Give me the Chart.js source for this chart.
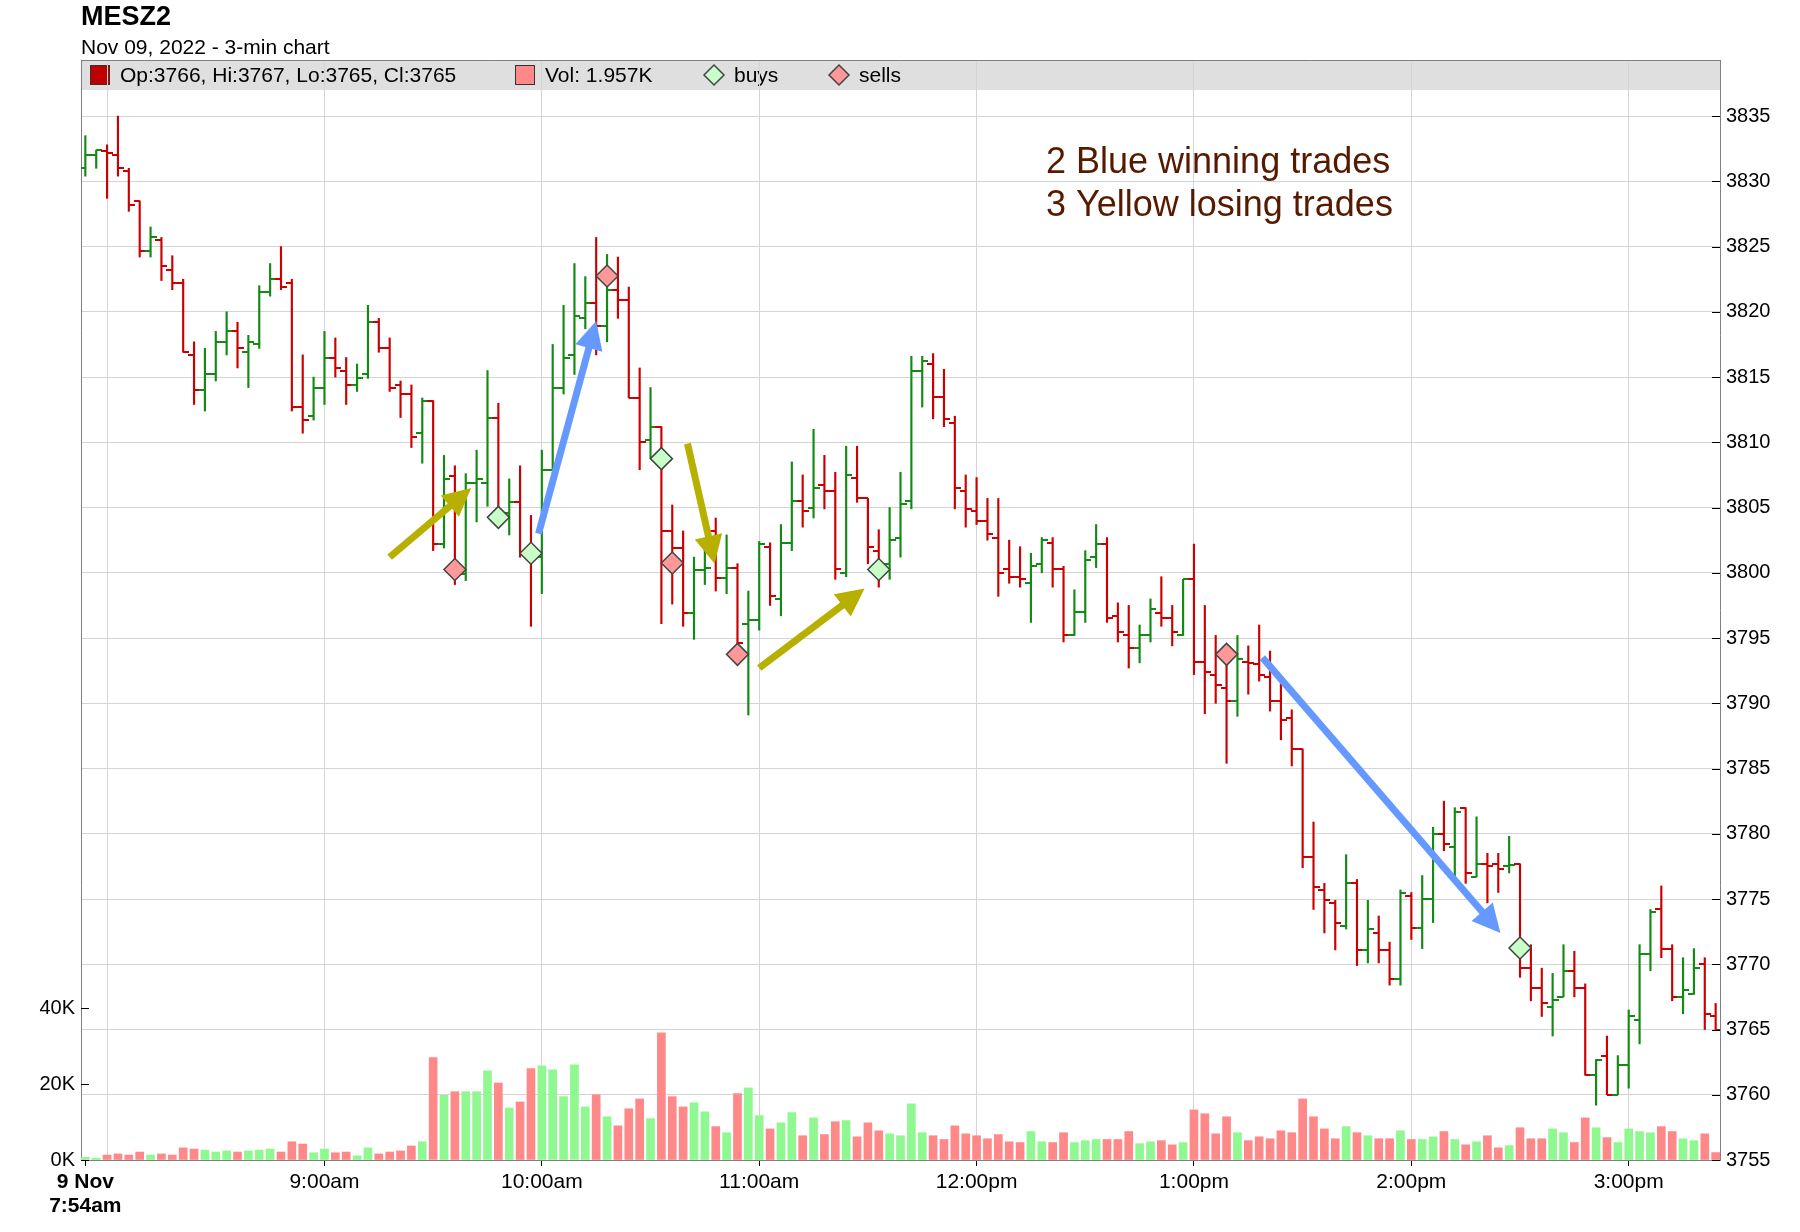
<!DOCTYPE html>
<html>
<head>
<meta charset="utf-8">
<script src="https://cdn.jsdelivr.net/npm/chart.js@4.4.0/dist/chart.umd.min.js"></script>
<style>
  html, body { margin: 0; padding: 0; background: #fff; }
  canvas { display: block; }
</style>
</head>
<body>
<canvas id="myChart" width="1800" height="1232"></canvas>
<script>
// MESZ2, 3-min bars, 7:54am .. 3:24pm (bar index 0..150)
const opens = [
  3831.0, 3832.0, 3832.3, 3832.0, 3830.8, 3828.5, 3824.7, 3825.5, 3823.2, 3822.2,
  3816.7, 3814.0, 3815.2, 3817.7, 3818.5, 3816.9, 3817.5, 3821.5, 3822.5, 3822.2,
  3812.7, 3812.0, 3814.2, 3816.5, 3815.5, 3814.4, 3815.2, 3819.2, 3817.2, 3814.4,
  3813.7, 3810.7, 3813.2, 3802.2, 3807.4, 3799.9, 3806.9, 3806.9, 3811.9, 3804.6,
  3805.4, 3801.6, 3801.2, 3807.9, 3814.2, 3816.7, 3819.5, 3820.7, 3818.9, 3821.7,
  3820.9, 3813.4, 3810.2, 3811.2, 3803.2, 3801.9, 3796.9, 3800.2, 3803.2, 3799.6,
  3800.4, 3796.1, 3796.4, 3802.0, 3798.0, 3802.3, 3805.5, 3805.0, 3806.7, 3806.3,
  3800.0, 3807.3, 3805.7, 3801.7, 3800.7, 3802.7, 3805.5, 3815.5, 3816.0, 3813.5,
  3811.5, 3806.3, 3804.7, 3804.0, 3802.7, 3800.3, 3799.7, 3799.2, 3800.7, 3802.3,
  3800.3, 3795.2, 3797.0, 3801.2, 3802.2, 3796.7, 3795.2, 3794.2, 3795.2, 3796.9,
  3796.5, 3795.2, 3799.5, 3793.2, 3792.2, 3791.2, 3790.2, 3793.2, 3793.0, 3792.0,
  3790.2, 3788.9, 3786.5, 3778.2, 3775.7, 3774.7, 3772.9, 3776.2, 3771.1, 3772.4,
  3771.1, 3768.9, 3775.2, 3772.8, 3775.0, 3780.0, 3779.0, 3782.0, 3776.7, 3777.7,
  3777.7, 3777.5, 3777.7, 3769.7, 3768.2, 3766.7, 3767.5, 3769.5, 3768.2, 3761.5,
  3763.0, 3760.0, 3762.3, 3765.7, 3770.8, 3774.2, 3771.2, 3767.5, 3767.7, 3770.0,
  3766
];
const highs = [
  3833.5, 3832.4, 3832.8, 3835.0, 3831.0, 3828.5, 3826.5, 3825.7, 3824.3, 3822.5,
  3817.7, 3817.2, 3818.5, 3820.0, 3819.2, 3818.2, 3822.0, 3823.7, 3825.0, 3822.5,
  3816.7, 3815.0, 3818.5, 3818.0, 3816.5, 3816.0, 3820.5, 3819.5, 3818.0, 3814.7,
  3814.4, 3813.4, 3813.2, 3809.0, 3808.2, 3807.6, 3809.4, 3815.5, 3813.0, 3807.2,
  3808.2, 3804.4, 3809.4, 3817.5, 3820.5, 3823.7, 3822.7, 3825.7, 3824.4, 3824.2,
  3821.9, 3815.7, 3814.2, 3811.2, 3805.2, 3803.2, 3801.2, 3801.9, 3804.2, 3802.9,
  3800.7, 3798.6, 3802.4, 3802.3, 3803.7, 3808.5, 3807.5, 3811.0, 3809.0, 3807.7,
  3809.7, 3809.7, 3805.7, 3803.3, 3805.0, 3807.7, 3816.6, 3816.6, 3816.8, 3815.6,
  3812.0, 3807.5, 3807.3, 3805.7, 3805.7, 3802.5, 3802.0, 3801.5, 3802.7, 3802.7,
  3800.5, 3798.7, 3801.7, 3803.7, 3802.7, 3797.7, 3797.5, 3796.0, 3798.0, 3799.7,
  3797.5, 3799.5, 3802.2, 3797.5, 3795.2, 3794.0, 3795.2, 3794.4, 3796.0, 3794.0,
  3791.5, 3789.5, 3786.5, 3780.9, 3776.2, 3774.9, 3778.4, 3776.5, 3774.9, 3773.7,
  3771.7, 3775.7, 3775.5, 3776.8, 3780.5, 3782.5, 3782.0, 3782.0, 3781.3, 3778.5,
  3778.5, 3779.8, 3777.7, 3771.5, 3769.7, 3769.3, 3771.5, 3771.0, 3768.5, 3762.7,
  3764.5, 3763.0, 3766.5, 3771.5, 3774.2, 3776.0, 3771.5, 3770.5, 3771.2, 3770.5,
  3767
];
const lows = [
  3830.4, 3831.0, 3828.7, 3830.4, 3827.7, 3824.2, 3824.2, 3822.4, 3821.7, 3816.9,
  3812.9, 3812.4, 3814.7, 3816.7, 3815.7, 3814.2, 3817.2, 3821.2, 3821.7, 3812.4,
  3810.7, 3811.7, 3812.9, 3815.0, 3812.9, 3813.9, 3814.9, 3816.9, 3813.9, 3811.9,
  3809.6, 3808.4, 3801.7, 3801.9, 3799.1, 3799.4, 3803.9, 3805.1, 3804.0, 3802.9,
  3801.2, 3795.9, 3798.4, 3807.9, 3813.7, 3815.2, 3818.7, 3816.7, 3817.7, 3819.5,
  3813.4, 3807.9, 3808.8, 3796.1, 3797.6, 3795.9, 3794.9, 3799.1, 3798.6, 3798.4,
  3793.3, 3789.1, 3795.6, 3797.5, 3796.7, 3801.7, 3803.5, 3804.2, 3804.9, 3799.5,
  3799.7, 3805.4, 3800.7, 3798.9, 3799.5, 3801.2, 3804.9, 3812.7, 3811.8, 3811.2,
  3804.9, 3803.5, 3803.7, 3802.5, 3798.2, 3799.2, 3798.9, 3796.2, 3800.0, 3798.9,
  3794.7, 3795.2, 3796.2, 3800.4, 3796.2, 3794.7, 3792.7, 3793.1, 3794.7, 3795.9,
  3794.4, 3795.2, 3792.2, 3789.2, 3790.0, 3785.4, 3789.0, 3790.7, 3791.7, 3789.4,
  3787.2, 3785.2, 3777.4, 3774.2, 3772.4, 3771.1, 3772.7, 3769.9, 3770.1, 3770.1,
  3768.4, 3768.4, 3771.9, 3771.2, 3773.2, 3778.7, 3776.7, 3776.2, 3776.7, 3774.7,
  3775.5, 3777.0, 3769.0, 3767.2, 3766.0, 3764.5, 3767.5, 3767.5, 3761.5, 3759.2,
  3760.0, 3760.0, 3760.5, 3763.9, 3769.5, 3770.5, 3767.2, 3766.2, 3767.7, 3765.0,
  3765
];
const closes = [
  3832.0, 3832.4, 3832.2, 3831.0, 3828.2, 3824.7, 3825.7, 3823.5, 3822.2, 3816.9,
  3814.0, 3815.2, 3817.7, 3818.5, 3817.2, 3817.7, 3821.5, 3822.5, 3821.9, 3812.7,
  3811.7, 3814.2, 3816.5, 3815.7, 3814.4, 3814.9, 3819.2, 3817.2, 3814.2, 3813.7,
  3810.4, 3813.2, 3802.2, 3807.2, 3800.5, 3806.9, 3807.2, 3811.9, 3804.6, 3805.4,
  3801.6, 3801.2, 3807.9, 3814.2, 3816.5, 3819.7, 3820.7, 3818.9, 3821.7, 3820.9,
  3813.4, 3810.0, 3811.2, 3803.2, 3801.9, 3796.9, 3800.2, 3800.4, 3799.6, 3800.4,
  3794.6, 3796.4, 3802.2, 3798.2, 3802.3, 3805.5, 3804.7, 3806.5, 3806.3, 3800.3,
  3807.5, 3805.7, 3802.0, 3800.4, 3802.5, 3805.3, 3815.5, 3816.2, 3813.5, 3811.8,
  3806.5, 3804.9, 3804.0, 3803.0, 3800.0, 3799.7, 3799.5, 3800.5, 3802.5, 3800.3,
  3795.2, 3797.0, 3801.0, 3802.2, 3796.5, 3795.5, 3794.2, 3795.2, 3797.2, 3796.5,
  3795.5, 3799.5, 3793.2, 3792.4, 3791.4, 3790.2, 3793.4, 3793.1, 3792.2, 3790.2,
  3788.7, 3786.5, 3778.2, 3775.9, 3774.9, 3773.2, 3776.2, 3771.1, 3772.7, 3771.1,
  3768.9, 3775.5, 3772.8, 3775.0, 3780.0, 3779.2, 3781.7, 3777.0, 3777.7, 3777.5,
  3777.3, 3777.6, 3769.7, 3768.2, 3767.0, 3767.3, 3769.5, 3768.2, 3761.5, 3762.7,
  3760.0, 3762.3, 3766.0, 3770.8, 3774.0, 3771.2, 3767.5, 3768.0, 3769.7, 3766.2,
  3765
];
// volume in thousands
const volumes = [
  0.7, 0.45, 1.3, 1.6, 1.3, 2.1, 1.3, 1.6, 1.3, 3.2,
  2.9, 2.6, 2.1, 2.4, 2.1, 2.4, 2.6, 2.9, 2.1, 4.8,
  4.2, 1.9, 2.9, 1.9, 2.1, 1.1, 3.2, 1.6, 2.1, 2.4,
  3.7, 4.8, 27.0, 17.1, 18.0, 18.0, 18.0, 23.5, 20.3, 13.7,
  15.3, 24.1, 24.8, 23.8, 16.7, 25.1, 14.0, 17.2, 11.4, 9.0,
  13.5, 16.1, 10.9, 33.5, 16.7, 14.0, 15.1, 12.7, 8.8, 7.2,
  17.5, 19.0, 11.7, 8.2, 9.8, 12.5, 6.4, 11.1, 6.7, 10.1,
  10.4, 6.1, 9.8, 7.7, 6.9, 6.4, 14.8, 7.2, 6.4, 5.4,
  9.0, 6.9, 6.4, 5.6, 6.7, 4.8, 4.6, 7.5, 4.8, 4.6,
  7.2, 4.6, 5.1, 5.4, 5.4, 5.4, 7.5, 4.3, 4.8, 5.1,
  4.0, 4.6, 13.2, 12.2, 6.9, 11.4, 7.2, 5.1, 6.1, 5.6,
  7.7, 7.2, 16.1, 11.4, 8.2, 5.6, 8.8, 7.2, 6.4, 5.6,
  5.6, 7.7, 5.4, 5.4, 6.1, 7.5, 5.4, 4.0, 4.8, 6.4,
  3.2, 3.8, 8.5, 5.6, 5.6, 8.2, 7.2, 4.6, 11.1, 8.5,
  5.9, 4.6, 8.2, 7.5, 7.2, 8.8, 7.5, 5.6, 5.1, 6.9,
  1.957
];

const buyBars = [38, 41, 53, 73, 132];
const buyPrices = [3804.25, 3801.5, 3808.75, 3800.25, 3771.25];
const sellBars = [34, 48, 54, 60, 105];
const sellPrices = [3800.25, 3822.75, 3800.75, 3793.75, 3793.75];

const tickBars = [0, 2, 22, 42, 62, 82, 102, 122, 142];
const tickLabels = [['9 Nov', '7:54am'], '', '9:00am', '10:00am', '11:00am', '12:00pm', '1:00pm', '2:00pm', '3:00pm'];
const priceTicks = [3755, 3760, 3765, 3770, 3775, 3780, 3785, 3790, 3795, 3800, 3805, 3810, 3815, 3820, 3825, 3830, 3835];
const volTicks = [0, 20, 40];

// hand drawn trade arrows: [bar, price] -> [bar, price]
const arrowFrom = [[28.0, 3801.2], [41.7, 3803.0], [55.4, 3809.9], [62.0, 3792.7], [108.3, 3793.5]];
const arrowTo = [[35.5, 3806.5], [47.0, 3819.3], [57.9, 3800.7], [71.7, 3798.8], [130.2, 3772.4]];
const arrowColors = ['#b8b000', '#6699ff', '#b8b000', '#b8b000', '#6699ff'];

const FONT = '"Liberation Sans", Arial, Helvetica, sans-serif';
const RED = '#cc0000';
const GREEN = '#138a13';
const isUp = i => closes[i] >= opens[i];

function tickImage(color, left) {
  const c = document.createElement('canvas');
  c.width = 12;
  c.height = 2;
  const g = c.getContext('2d');
  g.fillStyle = color;
  g.fillRect(left ? 0 : 6, 0, 6, 2);
  return c;
}
const openUp = tickImage(GREEN, true), openDown = tickImage(RED, true);
const closeUp = tickImage(GREEN, false), closeDown = tickImage(RED, false);

function diamond(ctx, x, y, r, fill) {
  ctx.beginPath();
  ctx.moveTo(x - r, y);
  ctx.lineTo(x, y - r);
  ctx.lineTo(x + r, y);
  ctx.lineTo(x, y + r);
  ctx.closePath();
  ctx.fillStyle = fill;
  ctx.fill();
  ctx.strokeStyle = '#444';
  ctx.lineWidth = 1.5;
  ctx.stroke();
}

const headerPlugin = {
  id: 'header',
  beforeDraw(chart) {
    const { ctx, chartArea: a } = chart;
    const n = opens.length - 1;
    ctx.save();
    ctx.fillStyle = '#fff';
    ctx.fillRect(0, 0, chart.width, chart.height);

    ctx.fillStyle = '#000';
    ctx.textBaseline = 'alphabetic';
    ctx.font = 'bold 27px ' + FONT;
    ctx.fillText('MESZ2', 81, 25);
    ctx.font = '21px ' + FONT;
    ctx.fillText('Nov 09, 2022 - 3-min chart', 81, 54);

    // legend band
    ctx.fillStyle = '#dfdfdf';
    ctx.fillRect(a.left, a.top, a.right - a.left, 30);
    const cy = a.top + 15;
    ctx.lineWidth = 1;
    ctx.fillStyle = '#c00000';
    ctx.fillRect(90, cy - 10, 20, 20);
    ctx.strokeStyle = '#333';
    ctx.strokeRect(90.5, cy - 9.5, 19, 19);
    ctx.fillStyle = '#ff8888';
    ctx.fillRect(515, cy - 10, 20, 20);
    ctx.strokeRect(515.5, cy - 9.5, 19, 19);
    diamond(ctx, 714, cy, 10, '#c8ffc8');
    diamond(ctx, 839, cy, 10, '#ff9999');

    ctx.fillStyle = '#000';
    ctx.font = '21px ' + FONT;
    ctx.textBaseline = 'middle';
    ctx.fillText(`Op:${opens[n]}, Hi:${highs[n]}, Lo:${lows[n]}, Cl:${closes[n]}`, 120, cy + 1);
    ctx.fillText(`Vol: ${volumes[n]}K`, 545, cy + 1);
    ctx.fillText('buys', 734, cy + 1);
    ctx.fillText('sells', 859, cy + 1);
    ctx.restore();
  },
  afterDatasetsDraw(chart) {
    const { ctx, scales: { x, y } } = chart;
    ctx.save();
    // arrows
    arrowFrom.forEach((f, k) => {
      const x0 = x.getPixelForValue(f[0]), y0 = y.getPixelForValue(f[1]);
      const x1 = x.getPixelForValue(arrowTo[k][0]), y1 = y.getPixelForValue(arrowTo[k][1]);
      const ang = Math.atan2(y1 - y0, x1 - x0);
      const headLen = 28, headW = 14;
      const bx = x1 - headLen * Math.cos(ang), by = y1 - headLen * Math.sin(ang);
      ctx.strokeStyle = arrowColors[k];
      ctx.fillStyle = arrowColors[k];
      ctx.lineWidth = 7;
      ctx.lineCap = 'butt';
      ctx.beginPath();
      ctx.moveTo(x0, y0);
      ctx.lineTo(bx + 2 * Math.cos(ang), by + 2 * Math.sin(ang));
      ctx.stroke();
      ctx.beginPath();
      ctx.moveTo(x1, y1);
      ctx.lineTo(bx + headW * Math.sin(ang), by - headW * Math.cos(ang));
      ctx.lineTo(bx - headW * Math.sin(ang), by + headW * Math.cos(ang));
      ctx.closePath();
      ctx.fill();
    });
    ctx.restore();
  },
  afterDraw(chart) {
    const { ctx, chartArea: a, scales: { y, vol } } = chart;
    ctx.save();
    // top frame line
    ctx.strokeStyle = '#808080';
    ctx.lineWidth = 1;
    ctx.beginPath();
    ctx.moveTo(a.left, a.top + 0.5);
    ctx.lineTo(a.right, a.top + 0.5);
    ctx.stroke();
    // inward tick marks
    ctx.strokeStyle = '#000';
    priceTicks.forEach(v => {
      const py = Math.round(y.getPixelForValue(v)) + 0.5;
      ctx.beginPath();
      ctx.moveTo(a.right - 8, py);
      ctx.lineTo(a.right, py);
      ctx.stroke();
    });
    volTicks.forEach(v => {
      const py = Math.round(vol.getPixelForValue(v)) + 0.5;
      ctx.beginPath();
      ctx.moveTo(a.left, py);
      ctx.lineTo(a.left + 8, py);
      ctx.stroke();
    });
    // note
    ctx.fillStyle = '#561a00';
    ctx.font = '36px ' + FONT;
    ctx.textBaseline = 'alphabetic';
    ctx.fillText('2 Blue winning trades', 1046, 173);
    ctx.fillText('3 Yellow losing trades', 1046, 216);
    ctx.restore();
  }
};

const chart = new Chart(document.getElementById('myChart'), {
  type: 'bar',
  data: {
    datasets: [
      {
        type: 'scatter', label: 'sells', order: 1, yAxisID: 'y',
        data: sellBars.map((b, k) => ({ x: b, y: sellPrices[k] })),
        pointStyle: 'rectRot', pointRadius: 11,
        backgroundColor: '#ff9999', borderColor: '#444', borderWidth: 1.5
      },
      {
        type: 'scatter', label: 'buys', order: 1, yAxisID: 'y',
        data: buyBars.map((b, k) => ({ x: b, y: buyPrices[k] })),
        pointStyle: 'rectRot', pointRadius: 11,
        backgroundColor: '#c8ffc8', borderColor: '#444', borderWidth: 1.5
      },
      {
        type: 'scatter', label: 'open', order: 2, yAxisID: 'y',
        data: opens.map((o, i) => ({ x: i, y: o })),
        pointRadius: 3,
        pointStyle: c => isUp(c.dataIndex) ? openUp : openDown
      },
      {
        type: 'scatter', label: 'close', order: 2, yAxisID: 'y',
        data: closes.map((v, i) => ({ x: i, y: v })),
        pointRadius: 3,
        pointStyle: c => isUp(c.dataIndex) ? closeUp : closeDown
      },
      {
        type: 'bar', label: 'range', order: 3, yAxisID: 'y', grouped: false,
        data: lows.map((l, i) => ({ x: i, y: [l, highs[i]] })),
        backgroundColor: opens.map((o, i) => isUp(i) ? GREEN : RED),
        barThickness: 1.5, borderWidth: 0
      },
      {
        type: 'bar', label: 'volume', order: 4, yAxisID: 'vol', grouped: false,
        data: volumes.map((v, i) => ({ x: i, y: v })),
        backgroundColor: volumes.map((v, i) => isUp(i) ? '#90f890' : '#ff8888'),
        barThickness: 8, borderWidth: 0
      }
    ]
  },
  options: {
    responsive: false,
    animation: false,
    devicePixelRatio: 1,
    events: [],
    layout: { padding: { top: 60, left: 0, right: 0, bottom: 0 } },
    plugins: { legend: { display: false }, tooltip: { enabled: false } },
    scales: {
      x: {
        type: 'linear', position: 'bottom', min: -0.4, max: 150.4, offset: false,
        afterBuildTicks: s => { s.ticks = tickBars.map(v => ({ value: v })); },
        afterFit: s => { s.height = 72; },
        grid: {
          offset: false,
          color: c => (c.tick && c.tick.value === 0) ? 'rgba(0,0,0,0)' : '#d4d4d4',
          tickColor: c => (c.tick && c.tick.value === 2) ? 'rgba(0,0,0,0)' : '#000',
          drawTicks: true, tickLength: 6, lineWidth: 1
        },
        border: { color: '#808080', width: 1 },
        ticks: {
          autoSkip: false, maxRotation: 0, padding: 4, color: '#000',
          font: c => ({ family: FONT, size: 21, weight: (c.tick && c.tick.value === 0) ? 'bold' : 'normal', lineHeight: 1.15 }),
          callback: v => { const k = tickBars.indexOf(v); return k < 0 ? '' : tickLabels[k]; }
        }
      },
      y: {
        type: 'linear', position: 'right', min: 3755, max: 3839.3,
        afterBuildTicks: s => { s.ticks = priceTicks.map(v => ({ value: v })); },
        afterFit: s => { s.width = 80; },
        grid: { color: '#d4d4d4', drawTicks: false },
        border: { color: '#808080', width: 1 },
        ticks: { padding: 6, color: '#000', font: { family: FONT, size: 20 }, callback: v => String(v) }
      },
      vol: {
        type: 'linear', position: 'left', min: 0, max: 290,
        afterBuildTicks: s => { s.ticks = volTicks.map(v => ({ value: v })); },
        afterFit: s => { s.width = 81; },
        grid: { drawOnChartArea: false, drawTicks: false },
        border: { color: '#808080', width: 1 },
        ticks: { padding: 6, color: '#000', font: { family: FONT, size: 20 }, callback: v => v + 'K' }
      }
    }
  },
  plugins: [headerPlugin]
});
</script>
</body>
</html>
